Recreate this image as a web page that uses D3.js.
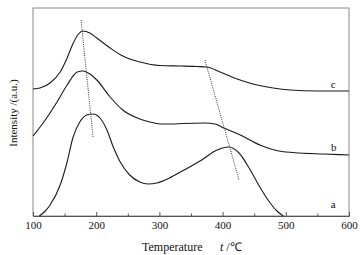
<!DOCTYPE html>
<html>
<head>
<meta charset="utf-8">
<script src="https://cdn.jsdelivr.net/npm/d3@7"></script>
<style>
  html, body { margin: 0; padding: 0; background: #fff; }
  svg { display: block; }
  .axis path, .axis line { stroke: #555; }
  .axis text { font-family: 'Liberation Serif', 'Times New Roman', serif; font-size: 11px; fill: #111; }
</style>
</head>
<body>
<div id="chart"></div>
<script>
// TPD-style profiles, intensity in arbitrary units
const TICKS = [100, 200, 300, 400, 500, 600];
const MINOR_TICKS = [150, 250, 350, 450, 550];

const curveA = [
  [110, 0], [118, 4], [127, 11], [143, 31], [154, 54], [163, 78], [174, 94],
  [185, 101], [195, 102], [206, 98], [217, 86], [227, 69], [238, 54],
  [253, 41], [269, 34], [282, 32], [296, 33], [316, 38], [336, 45],
  [367, 56], [388, 65], [410, 69], [426, 63], [442, 48], [458, 30],
  [473, 15], [486, 5], [496, 0]
];
const curveB = [
  [100, 80], [116, 93], [138, 114], [154, 131], [170, 144], [179, 145],
  [190, 142], [201, 136], [222, 119], [242, 106], [269, 97], [285, 94],
  [301, 92], [320, 92], [336, 92.5], [372, 93], [388, 92], [402, 88],
  [428, 81], [459, 71], [489, 65], [522, 63], [560, 62], [600, 61]
];
const curveC = [
  [100, 127], [111, 128], [127, 133], [143, 144], [154, 158], [163, 172],
  [172, 182], [179, 185], [190, 183], [201, 178], [222, 168], [242, 160],
  [269, 154], [301, 150.5], [333, 150], [360, 149.5], [375, 149], [396, 144],
  [423, 137], [448, 132], [480, 128], [507, 126], [550, 125], [600, 125]
];
// peak-shift guide lines
const guides = [
  [[176, 196], [195, 79]],
  [[372, 156], [426, 36]]
];
const curveLabels = [
  { text: 'a', t: 575, v: 12 },
  { text: 'b', t: 576, v: 69 },
  { text: 'c', t: 575, v: 132 }
];

const W = 364, H = 255;
const margin = { top: 8, right: 15, bottom: 39, left: 33 };
const width = W - margin.left - margin.right;
const height = H - margin.top - margin.bottom;

const svg = d3.select('#chart').append('svg')
  .attr('width', W).attr('height', H);

const g = svg.append('g')
  .attr('transform', `translate(${margin.left},${margin.top})`);

const x = d3.scaleLinear().domain([100, 600]).range([0, width]);
const y = d3.scaleLinear().domain([0, 208]).range([height, 0]);

g.append('rect')
  .attr('width', width).attr('height', height)
  .attr('fill', 'none')
  .attr('stroke', '#888')
  .attr('stroke-width', 1);

g.append('g')
  .attr('class', 'axis')
  .attr('transform', `translate(0,${height})`)
  .call(d3.axisBottom(x).tickValues(MINOR_TICKS).tickSizeInner(-2.5).tickSizeOuter(0).tickFormat(''))
  .call(a => a.select('.domain').remove());

g.append('g')
  .attr('class', 'axis')
  .attr('transform', `translate(0,${height})`)
  .call(d3.axisBottom(x).tickValues(TICKS).tickSizeInner(-4).tickSizeOuter(0).tickPadding(5))
  .call(a => a.select('.domain').attr('stroke', '#555'));

const line = d3.line()
  .x(d => x(d[0]))
  .y(d => y(d[1]))
  .curve(d3.curveMonotoneX);

[curveA, curveB, curveC].forEach(c => {
  g.append('path')
    .datum(c)
    .attr('d', line)
    .attr('fill', 'none')
    .attr('stroke', '#1a1a1a')
    .attr('stroke-width', 1.1);
});

guides.forEach(gd => {
  g.append('line')
    .attr('x1', x(gd[0][0])).attr('y1', y(gd[0][1]))
    .attr('x2', x(gd[1][0])).attr('y2', y(gd[1][1]))
    .attr('stroke', '#333')
    .attr('stroke-width', 1)
    .attr('stroke-dasharray', '1,1.2');
});

g.selectAll('.curve-label')
  .data(curveLabels)
  .join('text')
  .attr('class', 'curve-label')
  .attr('x', d => x(d.t))
  .attr('y', d => y(d.v))
  .attr('dy', '0.35em')
  .attr('text-anchor', 'middle')
  .attr('font-family', "'Liberation Serif', 'Times New Roman', serif")
  .attr('font-size', 11)
  .attr('fill', '#111')
  .text(d => d.text);

svg.append('text')
  .attr('transform', `translate(17,${margin.top + 105}) rotate(-90)`)
  .attr('text-anchor', 'middle')
  .attr('font-family', "'Liberation Serif', 'Times New Roman', serif")
  .attr('font-size', 11)
  .attr('fill', '#111')
  .text('Intensity /(a.u.)');

const xl = svg.append('text')
  .attr('x', 142)
  .attr('y', 251)
  .attr('font-family', "'Liberation Serif', 'Times New Roman', serif")
  .attr('font-size', 12)
  .attr('fill', '#111');
xl.append('tspan').text('Temperature');
xl.append('tspan').attr('x', 220).attr('font-style', 'italic').text('t');
xl.append('tspan').text(' /℃');
</script>
</body>
</html>
